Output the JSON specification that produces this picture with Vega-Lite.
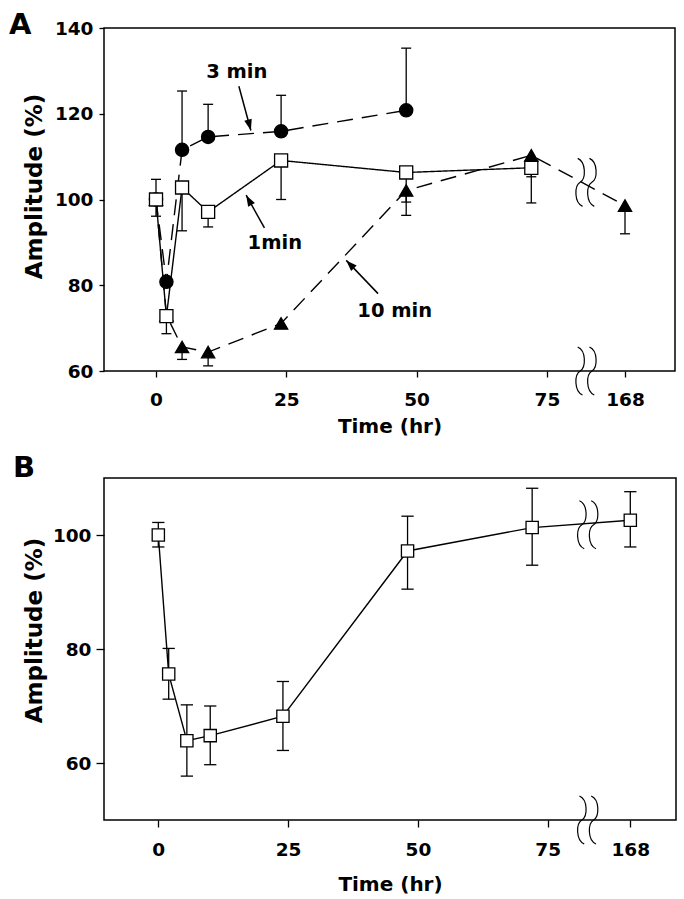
{
  "$schema": "https://vega.github.io/schema/vega-lite/v6.json",
  "background": "white",
  "padding": {"left": 8, "top": 10, "right": 4, "bottom": 2},
  "spacing": 15,
  "columns": 1,
  "config": {
    "view": {"stroke": "black", "strokeWidth": 1.5},
    "font": "DejaVu Sans",
    "axis": {"grid": false, "domain": false, "tickColor": "black", "tickWidth": 1.3, "labelColor": "black", "titleColor": "black", "labelFont": "DejaVu Sans", "labelFontWeight": "bold", "labelFontSize": 18.5, "titleFont": "DejaVu Sans", "titleFontWeight": "bold", "titleFontSize": 20},
    "title": {"font": "DejaVu Sans", "fontWeight": "bold", "fontSize": 29, "color": "black", "anchor": "start", "frame": "group", "offset": 0, "baseline": "alphabetic"}
  },
  "datasets": {
    "pts": [
      {"panel": "A", "series": "1 min", "t": 0, "amp": 100, "lo": 96.1, "hi": 104.7},
      {"panel": "A", "series": "1 min", "t": 2, "amp": 72.8, "lo": 68.7, "hi": 72.8},
      {"panel": "A", "series": "1 min", "t": 5, "amp": 102.8, "lo": 92.7, "hi": 102.8},
      {"panel": "A", "series": "1 min", "t": 10, "amp": 97.1, "lo": 93.6, "hi": 97.1},
      {"panel": "A", "series": "1 min", "t": 24, "amp": 109.1, "lo": 100, "hi": 109.1},
      {"panel": "A", "series": "1 min", "t": 48, "amp": 106.3, "lo": 99.4, "hi": 106.3},
      {"panel": "A", "series": "1 min", "t": 72, "amp": 107.4, "lo": 99.2, "hi": 107.4},
      {"panel": "A", "series": "3 min", "t": 0, "amp": 100},
      {"panel": "A", "series": "3 min", "t": 2, "amp": 80.8},
      {"panel": "A", "series": "3 min", "t": 5, "amp": 111.6, "lo": 111.6, "hi": 125.3},
      {"panel": "A", "series": "3 min", "t": 10, "amp": 114.6, "lo": 114.6, "hi": 122.2},
      {"panel": "A", "series": "3 min", "t": 24, "amp": 115.9, "lo": 115.9, "hi": 124.3},
      {"panel": "A", "series": "3 min", "t": 48, "amp": 120.8, "lo": 120.8, "hi": 135.3},
      {"panel": "A", "series": "10 min", "t": 0, "amp": 100},
      {"panel": "A", "series": "10 min", "t": 2, "amp": 73},
      {"panel": "A", "series": "10 min", "t": 5, "amp": 65.6, "lo": 62.7, "hi": 65.6},
      {"panel": "A", "series": "10 min", "t": 10, "amp": 64.4, "lo": 61.2, "hi": 64.4},
      {"panel": "A", "series": "10 min", "t": 24, "amp": 71.1},
      {"panel": "A", "series": "10 min", "t": 48, "amp": 102.1, "lo": 96.3, "hi": 102.1},
      {"panel": "A", "series": "10 min", "t": 72, "amp": 110.3, "lo": 105.3, "hi": 110.3},
      {"panel": "A", "series": "10 min", "t": 168, "amp": 98.6, "lo": 92, "hi": 98.6},
      {"panel": "B", "series": "1 min", "t": 0, "amp": 100, "lo": 97.9, "hi": 102.2},
      {"panel": "B", "series": "1 min", "t": 2, "amp": 75.6, "lo": 71.2, "hi": 80.1},
      {"panel": "B", "series": "1 min", "t": 5.5, "amp": 63.9, "lo": 57.7, "hi": 70.2},
      {"panel": "B", "series": "1 min", "t": 10, "amp": 64.8, "lo": 59.7, "hi": 70.0},
      {"panel": "B", "series": "1 min", "t": 24, "amp": 68.2, "lo": 62.2, "hi": 74.3},
      {"panel": "B", "series": "1 min", "t": 48, "amp": 97.2, "lo": 90.5, "hi": 103.3},
      {"panel": "B", "series": "1 min", "t": 72, "amp": 101.3, "lo": 94.7, "hi": 108.2},
      {"panel": "B", "series": "1 min", "t": 168, "amp": 102.6, "lo": 97.9, "hi": 107.6}
    ],
    "breaks": [
      {"panel": "A", "t": 102, "amp": 104},
      {"panel": "A", "t": 102, "amp": 60},
      {"panel": "B", "t": 101.8, "amp": 101.8},
      {"panel": "B", "t": 101.8, "amp": 50}
    ],
    "notes": [
      {"label": "3 min", "t": 15.5, "amp": 129.7},
      {"label": "1min", "t": 22.8, "amp": 89.9},
      {"label": "10 min", "t": 45.8, "amp": 73.9}
    ],
    "arrows": [
      {"label": "3 min", "t": 15.9, "amp": 126.4, "t2": 18.2, "amp2": 116.1},
      {"label": "1min", "t": 20.8, "amp": 93.4, "t2": 17.3, "amp2": 101.0},
      {"label": "10 min", "t": 42.6, "amp": 78.05, "t2": 36.5, "amp2": 85.8}
    ]
  },
  "concat": [
    {
      "title": {"text": "A", "dx": -95, "dy": 25},
      "width": 571,
      "height": 343,
      "encoding": {
        "x": {"field": "t", "type": "quantitative", "scale": {"domain": [-9.975, 80, 168, 177.6], "range": [0, 469, 521, 571], "nice": false, "zero": false},
              "axis": {"values": [0, 25, 50, 75, 168], "title": "Time (hr)", "tickSize": 6, "labelPadding": 13, "titlePadding": 8}},
        "y": {"field": "amp", "type": "quantitative", "scale": {"domain": [60, 140], "nice": false, "zero": false},
              "axis": {"values": [60, 80, 100, 120, 140], "title": "Amplitude (%)", "titleFontSize": 23, "tickSize": 5, "labelPadding": 6, "titleX": -81, "titleY": 158, "titleAngle": -90, "titleAlign": "center", "titleBaseline": "top"}}
      },
      "layer": [
        {
          "data": {"name": "pts"},
          "transform": [{"filter": "datum.panel == 'A'"}],
          "mark": {"type": "line", "stroke": "black", "strokeWidth": 1.4},
          "encoding": {
            "detail": {"field": "series"},
            "strokeDash": {"field": "series", "type": "nominal", "scale": {"domain": ["1 min", "3 min", "10 min"], "range": [[1, 0], [16, 9], [16, 9]]}, "legend": null}
          }
        },
        {
          "data": {"name": "pts"},
          "transform": [{"filter": "datum.panel == 'A' && isValid(datum.lo)"}],
          "mark": {"type": "rule", "stroke": "black", "strokeWidth": 1.3},
          "encoding": {
            "y": {"field": "lo", "type": "quantitative", "scale": {"domain": [60, 140], "nice": false, "zero": false},
                  "axis": {"values": [60, 80, 100, 120, 140], "title": "Amplitude (%)", "titleFontSize": 23, "tickSize": 5, "labelPadding": 6, "titleX": -81, "titleY": 158, "titleAngle": -90, "titleAlign": "center", "titleBaseline": "top"}},
            "y2": {"field": "hi"}
          }
        },
        {
          "data": {"name": "pts"},
          "transform": [{"filter": "datum.panel == 'A'"}, {"fold": ["lo", "hi"], "as": ["key", "value"]}, {"filter": "isValid(datum.value) && datum.value != datum.amp"}],
          "mark": {"type": "point", "shape": "stroke", "size": 100, "stroke": "black", "strokeWidth": 1.3, "filled": false, "opacity": 1},
          "encoding": {
            "y": {"field": "value", "type": "quantitative", "scale": {"domain": [60, 140], "nice": false, "zero": false},
                  "axis": {"values": [60, 80, 100, 120, 140], "title": "Amplitude (%)", "titleFontSize": 23, "tickSize": 5, "labelPadding": 6, "titleX": -81, "titleY": 158, "titleAngle": -90, "titleAlign": "center", "titleBaseline": "top"}}
          }
        },
        {
          "data": {"name": "pts"},
          "transform": [{"filter": "datum.panel == 'A' && datum.series != '1 min'"}],
          "mark": {"type": "point", "filled": true, "fill": "black", "size": 175, "stroke": "black", "strokeWidth": 1.3, "opacity": 1},
          "encoding": {
            "shape": {"field": "series", "type": "nominal", "scale": {"domain": ["1 min", "3 min", "10 min"], "range": ["square", "circle", "triangle-up"]}, "legend": null}
          }
        },
        {
          "data": {"name": "pts"},
          "transform": [{"filter": "datum.panel == 'A' && datum.series == '1 min'"}],
          "mark": {"type": "point", "shape": "square", "filled": true, "fill": "white", "size": 170, "stroke": "black", "strokeWidth": 1.3, "opacity": 1}
        },
        {
          "data": {"name": "breaks"},
          "transform": [{"filter": "datum.panel == 'A'"}],
          "mark": {"type": "point", "shape": "M -0.345 -1 C 0.005 -0.85 0.005 -0.15 -0.245 0 C -0.495 0.15 -0.495 0.85 -0.145 1 M 0.145 -1 C 0.495 -0.85 0.495 -0.15 0.245 0 C -0.005 0.15 -0.005 0.85 0.345 1", "size": 2300, "filled": false, "stroke": "black", "strokeWidth": 1.2, "opacity": 1}
        },
        {
          "data": {"name": "notes"},
          "mark": {"type": "text", "font": "DejaVu Sans", "fontWeight": "bold", "fontSize": 19.5, "color": "black", "align": "center", "baseline": "middle"},
          "encoding": {"text": {"field": "label"}}
        },
        {
          "data": {"name": "arrows"},
          "mark": {"type": "rule", "stroke": "black", "strokeWidth": 1.5},
          "encoding": {"x2": {"field": "t2"}, "y2": {"field": "amp2"}}
        },
        {
          "data": {"name": "arrows"},
          "transform": [{"filter": "datum.label == '3 min'"}],
          "mark": {"type": "point", "shape": "M 0 0 L 0.35 1 L -0.35 1 Z", "size": 484, "filled": true, "fill": "black", "strokeWidth": 0, "opacity": 1, "angle": 165},
          "encoding": {
            "x": {"field": "t2", "type": "quantitative", "scale": {"domain": [-9.975, 80, 168, 177.6], "range": [0, 469, 521, 571], "nice": false, "zero": false},
                  "axis": {"values": [0, 25, 50, 75, 168], "title": "Time (hr)", "tickSize": 6, "labelPadding": 13, "titlePadding": 8}},
            "y": {"field": "amp2", "type": "quantitative", "scale": {"domain": [60, 140], "nice": false, "zero": false},
                  "axis": {"values": [60, 80, 100, 120, 140], "title": "Amplitude (%)", "titleFontSize": 23, "tickSize": 5, "labelPadding": 6, "titleX": -81, "titleY": 158, "titleAngle": -90, "titleAlign": "center", "titleBaseline": "top"}}
          }
        },
        {
          "data": {"name": "arrows"},
          "transform": [{"filter": "datum.label == '1min'"}],
          "mark": {"type": "point", "shape": "M 0 0 L 0.35 1 L -0.35 1 Z", "size": 484, "filled": true, "fill": "black", "strokeWidth": 0, "opacity": 1, "angle": 331},
          "encoding": {
            "x": {"field": "t2", "type": "quantitative", "scale": {"domain": [-9.975, 80, 168, 177.6], "range": [0, 469, 521, 571], "nice": false, "zero": false},
                  "axis": {"values": [0, 25, 50, 75, 168], "title": "Time (hr)", "tickSize": 6, "labelPadding": 13, "titlePadding": 8}},
            "y": {"field": "amp2", "type": "quantitative", "scale": {"domain": [60, 140], "nice": false, "zero": false},
                  "axis": {"values": [60, 80, 100, 120, 140], "title": "Amplitude (%)", "titleFontSize": 23, "tickSize": 5, "labelPadding": 6, "titleX": -81, "titleY": 158, "titleAngle": -90, "titleAlign": "center", "titleBaseline": "top"}}
          }
        },
        {
          "data": {"name": "arrows"},
          "transform": [{"filter": "datum.label == '10 min'"}],
          "mark": {"type": "point", "shape": "M 0 0 L 0.35 1 L -0.35 1 Z", "size": 484, "filled": true, "fill": "black", "strokeWidth": 0, "opacity": 1, "angle": 316},
          "encoding": {
            "x": {"field": "t2", "type": "quantitative", "scale": {"domain": [-9.975, 80, 168, 177.6], "range": [0, 469, 521, 571], "nice": false, "zero": false},
                  "axis": {"values": [0, 25, 50, 75, 168], "title": "Time (hr)", "tickSize": 6, "labelPadding": 13, "titlePadding": 8}},
            "y": {"field": "amp2", "type": "quantitative", "scale": {"domain": [60, 140], "nice": false, "zero": false},
                  "axis": {"values": [60, 80, 100, 120, 140], "title": "Amplitude (%)", "titleFontSize": 23, "tickSize": 5, "labelPadding": 6, "titleX": -81, "titleY": 158, "titleAngle": -90, "titleAlign": "center", "titleBaseline": "top"}}
          }
        }
      ]
    },
    {
      "title": {"text": "B", "dx": -91, "dy": 9},
      "width": 572,
      "height": 342,
      "encoding": {
        "x": {"field": "t", "type": "quantitative", "scale": {"domain": [-10.46, 80, 168, 176.8], "range": [0, 469.7, 526.3, 572], "nice": false, "zero": false},
              "axis": {"values": [0, 25, 50, 75, 168], "title": "Time (hr)", "tickSize": 7, "labelPadding": 13, "titlePadding": 16}},
        "y": {"field": "amp", "type": "quantitative", "scale": {"domain": [50, 110], "nice": false, "zero": false},
              "axis": {"values": [60, 80, 100], "title": "Amplitude (%)", "titleFontSize": 23, "tickSize": 8, "labelPadding": 5, "titleX": -81, "titleY": 152, "titleAngle": -90, "titleAlign": "center", "titleBaseline": "top"}}
      },
      "layer": [
        {
          "data": {"name": "pts"},
          "transform": [{"filter": "datum.panel == 'B'"}],
          "mark": {"type": "line", "stroke": "black", "strokeWidth": 1.4}
        },
        {
          "data": {"name": "pts"},
          "transform": [{"filter": "datum.panel == 'B' && isValid(datum.lo)"}],
          "mark": {"type": "rule", "stroke": "black", "strokeWidth": 1.3},
          "encoding": {
            "y": {"field": "lo", "type": "quantitative", "scale": {"domain": [50, 110], "nice": false, "zero": false},
                  "axis": {"values": [60, 80, 100], "title": "Amplitude (%)", "titleFontSize": 23, "tickSize": 8, "labelPadding": 5, "titleX": -81, "titleY": 152, "titleAngle": -90, "titleAlign": "center", "titleBaseline": "top"}},
            "y2": {"field": "hi"}
          }
        },
        {
          "data": {"name": "pts"},
          "transform": [{"filter": "datum.panel == 'B'"}, {"fold": ["lo", "hi"], "as": ["key", "value"]}, {"filter": "isValid(datum.value) && datum.value != datum.amp"}],
          "mark": {"type": "point", "shape": "stroke", "size": 150, "stroke": "black", "strokeWidth": 1.3, "filled": false, "opacity": 1},
          "encoding": {
            "y": {"field": "value", "type": "quantitative", "scale": {"domain": [50, 110], "nice": false, "zero": false},
                  "axis": {"values": [60, 80, 100], "title": "Amplitude (%)", "titleFontSize": 23, "tickSize": 8, "labelPadding": 5, "titleX": -81, "titleY": 152, "titleAngle": -90, "titleAlign": "center", "titleBaseline": "top"}}
          }
        },
        {
          "data": {"name": "pts"},
          "transform": [{"filter": "datum.panel == 'B'"}],
          "mark": {"type": "point", "shape": "square", "filled": true, "fill": "white", "size": 150, "stroke": "black", "strokeWidth": 1.3, "opacity": 1}
        },
        {
          "data": {"name": "breaks"},
          "transform": [{"filter": "datum.panel == 'B'"}],
          "mark": {"type": "point", "shape": "M -0.345 -1 C 0.005 -0.85 0.005 -0.15 -0.245 0 C -0.495 0.15 -0.495 0.85 -0.145 1 M 0.145 -1 C 0.495 -0.85 0.495 -0.15 0.245 0 C -0.005 0.15 -0.005 0.85 0.345 1", "size": 2300, "filled": false, "stroke": "black", "strokeWidth": 1.2, "opacity": 1}
        }
      ]
    }
  ]
}
